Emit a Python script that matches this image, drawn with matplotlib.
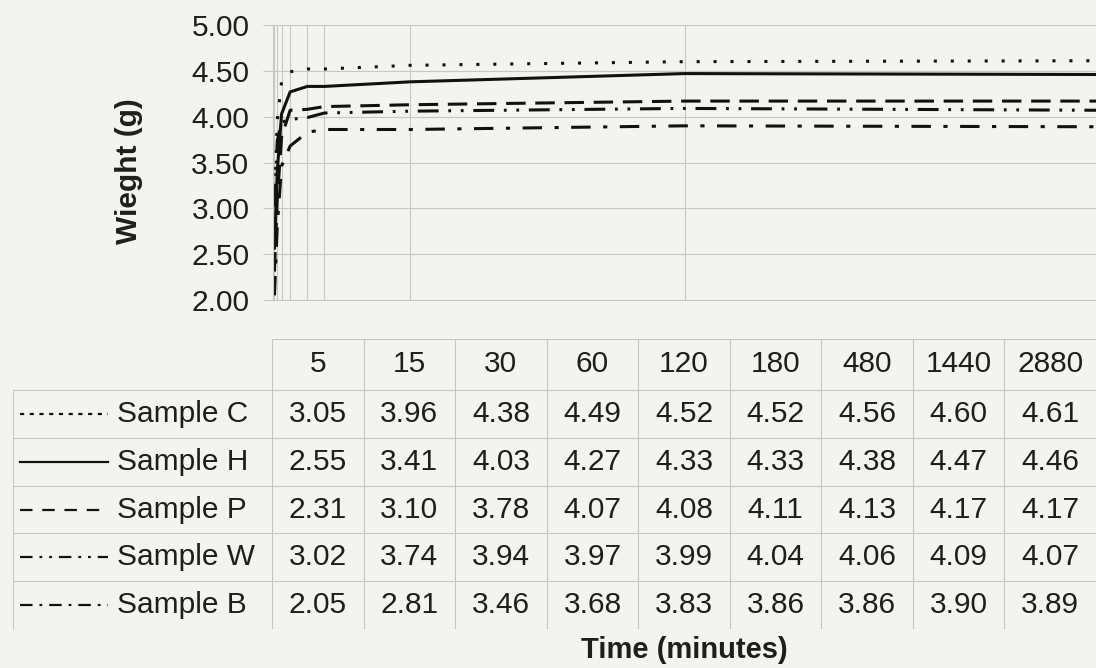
import matplotlib
matplotlib.use("Agg")
import matplotlib.pyplot as plt
from matplotlib.lines import Line2D

plt.rcParams['font.family'] = ['Liberation Sans', 'DejaVu Sans']
plt.rcParams['lines.scale_dashes'] = False

times = [5, 15, 30, 60, 120, 180, 480, 1440, 2880]
names = ["Sample C", "Sample H", "Sample P", "Sample W", "Sample B"]
sample_c = [3.05, 3.96, 4.38, 4.49, 4.52, 4.52, 4.56, 4.60, 4.61]
sample_h = [2.55, 3.41, 4.03, 4.27, 4.33, 4.33, 4.38, 4.47, 4.46]
sample_p = [2.31, 3.10, 3.78, 4.07, 4.08, 4.11, 4.13, 4.17, 4.17]
sample_w = [3.02, 3.74, 3.94, 3.97, 3.99, 4.04, 4.06, 4.09, 4.07]
sample_b = [2.05, 2.81, 3.46, 3.68, 3.83, 3.86, 3.86, 3.90, 3.89]
series = [sample_c, sample_h, sample_p, sample_w, sample_b]

# line styles (plot / table key)
plot_dash = [(0, (2.2, 10)), '-', (0, (14, 7)), (0, (15, 7, 2, 7, 2, 7)), (0, (14, 9, 3, 9))]
key_dash = [(0, (3, 4)), '-', (0, (9, 7)), (0, (9, 5, 2, 5, 2, 5)), (0, (9, 5, 2, 5))]

bg = '#f3f3ef'
grid = '#c6c6c2'
txt = '#1e1e1e'
fs = 21.5

fig = plt.figure(figsize=(10.96, 6.68), dpi=100, facecolor=bg)

# ---- chart
ax = fig.add_axes([273/1096, 1-300/668, 1-273/1096, 275/668])
ax.set_facecolor(bg)
for vals, ls in zip(series, plot_dash):
    ax.plot(times, vals, color='#111111', lw=2.2, linestyle=ls, solid_capstyle='butt')
ax.set_xlim(0, 2880)
ax.set_ylim(2, 5)
ax.set_yticks([2.0, 2.5, 3.0, 3.5, 4.0, 4.5, 5.0])
ax.set_yticklabels([f"{v:.2f}" for v in ax.get_yticks()], fontsize=fs, color=txt)
ax.set_xticks(times)
ax.set_xticklabels([])
ax.tick_params(axis='x', length=0)
ax.tick_params(axis='y', length=7, width=0.8, color=grid, pad=10)
ax.grid(True, color=grid, lw=0.8)
for s in ['top', 'right']:
    ax.spines[s].set_visible(False)
for s in ['left', 'bottom']:
    ax.spines[s].set_color(grid)
    ax.spines[s].set_linewidth(0.8)

fig.text(129/1096, 1-171/668, "Wieght (g)", rotation=90, ha='center', va='center',
         fontsize=fs, fontweight='bold', color=txt)

# ---- data table
ncol = len(times)
nrow = len(names)
col_w = (1096-272)/ncol
left_cols = (272-13)/col_w
head_h = 51/((629-390)/nrow)

tb = fig.add_axes([13/1096, 1-629/668, 1-13/1096, 290/668])
tb.set_xlim(-left_cols, ncol)
tb.set_ylim(nrow, -head_h)
tb.axis('off')

tb.vlines(range(ncol+1), -head_h, nrow, color=grid, lw=0.8)
tb.vlines(-left_cols, 0, nrow, color=grid, lw=0.8)
tb.hlines(range(nrow+1), -left_cols, ncol, color=grid, lw=0.8)
tb.hlines(-head_h, 0, ncol, color=grid, lw=0.8)

for j, t in enumerate(times):
    tb.text(j+0.5, -head_h/2, str(t), ha='center', va='center', fontsize=fs, color=txt)

key_x0 = (20-272)/col_w
key_x1 = (108-272)/col_w
name_x = (117-272)/col_w
for i, (name, vals) in enumerate(zip(names, series)):
    yc = i+0.5
    tb.add_line(Line2D([key_x0, key_x1], [yc, yc], color='#111111', lw=1.6,
                       linestyle=key_dash[i]))
    tb.text(name_x, yc, name, ha='left', va='center', fontsize=fs, color=txt)
    for j, v in enumerate(vals):
        tb.text(j+0.5, yc, f"{v:.2f}", ha='center', va='center', fontsize=fs, color=txt)

fig.text(684/1096, 1-650/668, "Time (minutes)", ha='center', va='center',
         fontsize=fs-0.5, fontweight='bold', color=txt)

fig.savefig("out.png", dpi=100, facecolor=bg)
